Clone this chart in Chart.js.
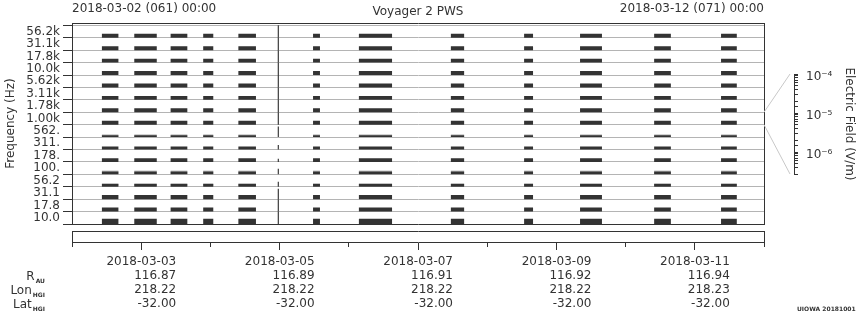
<!DOCTYPE html>
<html>
<head>
<meta charset="utf-8">
<script src="https://cdn.jsdelivr.net/npm/chart.js@4.4.1/dist/chart.umd.min.js"></script>
<style>
  body { margin: 0; background: #fff; font-family: 'DejaVu Sans', sans-serif; color: #333; }
  #wrap { position: relative; width: 860px; height: 320px; overflow: hidden; }
  canvas { position: absolute; }
  .txt { position: absolute; font-size: 12px; line-height: 14px; white-space: nowrap; }
  .row { position: absolute; right: 815px; font-size: 12px; line-height: 14px; white-space: nowrap; }
  .row sub { font-size: 6px; font-weight: bold; vertical-align: -3px; margin-left: 1px; }
  .stamp { position: absolute; left: 797px; top: 305px; font-size: 6px; font-weight: bold; white-space: nowrap; }
</style>
</head>
<body>
<div id="wrap">
  <canvas id="spec" width="860" height="320" style="left:0;top:0"></canvas>
  <canvas id="time" width="860" height="320" style="left:0;top:0"></canvas>
  <canvas id="cbar" width="100" height="150" style="left:760px;top:50px"></canvas>
  <div class="txt" style="left:72px;top:1px">2018-03-02 (061) 00:00</div>
  <div class="txt" style="left:418px;top:4px;transform:translateX(-50%)">Voyager 2 PWS</div>
  <div class="txt" style="right:96px;top:1px">2018-03-12 (071) 00:00</div>
  <div class="row" style="top:269px">R<sub>AU</sub></div>
  <div class="row" style="top:283px">Lon<sub>HGI</sub></div>
  <div class="row" style="top:297px">Lat<sub>HGI</sub></div>
  <div class="stamp">UIOWA 20181001</div>
</div>
<script>
// frequency channels, bottom to top
const channels = ['10.0', '17.8', '31.1', '56.2', '100.', '178.', '311.', '562.',
  '1.00k', '1.78k', '3.11k', '5.62k', '10.0k', '17.8k', '31.1k', '56.2k'];

// data segments, hours after 2018-03-02 00:00
const segStart = [10.3, 21.6, 34.2, 45.5, 57.7, 83.6, 99.5, 131.4, 156.8, 176.2, 201.9, 225.1];
const segEnd   = [16.1, 29.4, 40.0, 49.0, 63.8, 86.0, 111.0, 136.0, 159.9, 183.8, 207.7, 230.6];

// electric field per channel (V/m) during segments
const fieldLevel = [3.5e-6, 1.8e-6, 2.1e-6, 1.0e-6, 1.0e-6, 1.6e-6, 1.1e-6, 6.2e-7,
  1.8e-6, 1.8e-6, 1.8e-6, 1.8e-6, 1.8e-6, 1.8e-6, 1.8e-6, 1.8e-6];
// occasional peaks (V/m), lighter trace
const peakLevel = [null, null, null, 1.6e-6, 1.6e-6, null, null, 1.0e-6,
  null, null, null, null, null, null, null, null];

// short burst near 2018-03-04 23:30
const spikeStart = 71.35;
const spikeEnd = 71.75;
const spikeLevel = [1.0e-4, 1.0e-4, 4.1e-5, 2.9e-6, 3.9e-6, 1.3e-6, 2.2e-6, 4.1e-5,
  1.0e-4, 1.0e-4, 1.0e-4, 1.0e-4, 1.0e-4, 1.0e-4, 1.0e-4, 1.0e-4];

// electric field scale of one channel band
const fieldMin = 2.73e-7;
const fieldMax = 1.0e-4;

// time axis
const tickHours = [0, 24, 48, 72, 96, 120, 144, 168, 192, 216, 240];
const tickDates = ['2018-03-03', '2018-03-05', '2018-03-07', '2018-03-09', '2018-03-11'];
const rAU    = ['116.87', '116.89', '116.91', '116.92', '116.94'];
const lonHGI = ['218.22', '218.22', '218.22', '218.22', '218.23'];
const latHGI = ['-32.00', '-32.00', '-32.00', '-32.00', '-32.00'];

const ink = '#333';
const gridGrey = '#b4b4b4';
const font = { family: "'DejaVu Sans', sans-serif", size: 12 };

function bandFraction(e) {
  const lo = Math.log10(fieldMin), hi = Math.log10(fieldMax);
  return Math.min(1, Math.max(0, (Math.log10(e) - lo) / (hi - lo)));
}

// step trace of one channel, filled down to the band floor
function trace(ch, spans) {
  const pts = [];
  spans.sort((a, b) => a.s - b.s).forEach(sp => {
    const top = ch + bandFraction(sp.v);
    pts.push({ x: sp.s, y: ch }, { x: sp.s, y: top }, { x: sp.e, y: top }, { x: sp.e, y: ch });
  });
  return pts;
}

const datasets = [];
channels.forEach((name, ch) => {
  const spans = segStart.map((s, k) => ({ s: s, e: segEnd[k], v: fieldLevel[ch] }));
  spans.push({ s: spikeStart, e: spikeEnd, v: spikeLevel[ch] });
  datasets.push({
    label: name,
    data: trace(ch, spans),
    xAxisID: 'x', yAxisID: 'y',
    backgroundColor: ink,
    borderColor: 'rgba(0,0,0,0)',
    fill: { value: ch }
  });
});
channels.forEach((name, ch) => {
  if (peakLevel[ch] === null) return;
  const spans = segStart.map((s, k) => ({ s: s, e: segEnd[k], v: peakLevel[ch] }));
  datasets.push({
    label: name + ' peak',
    data: trace(ch, spans),
    xAxisID: 'x', yAxisID: 'y',
    backgroundColor: '#c4c4c4',
    borderColor: 'rgba(0,0,0,0)',
    fill: { value: ch }
  });
});

const frame = (pos, size) => ({
  type: 'linear', position: pos, min: 0, max: 1,
  ticks: { display: false }, grid: { display: false },
  border: { color: ink },
  afterFit: s => { if (pos === 'top' || pos === 'bottom') s.height = size; else s.width = size; }
});

const specChart = new Chart(document.getElementById('spec'), {
  type: 'line',
  data: { datasets },
  options: {
    responsive: false, animation: false, events: [],
    layout: { padding: { top: 23, right: 96, bottom: 96, left: 0 } },
    plugins: { legend: { display: false }, tooltip: { enabled: false } },
    elements: { point: { radius: 0 }, line: { borderWidth: 0, tension: 0 } },
    scales: {
      x: { type: 'linear', min: 0, max: 240, ticks: { display: false }, grid: { display: false },
           border: { color: ink }, afterFit: s => { s.height = 0; } },
      y: {
        type: 'linear', min: 0, max: 16.19,
        afterBuildTicks: s => { s.ticks = channels.concat(['']).map((_, i) => ({ value: i })); },
        ticks: { autoSkip: false, color: ink, font, padding: 3, labelOffset: -6.2,
                 callback: v => channels[v] || '' },
        grid: { color: c => (c.tick && c.tick.value === 0) ? 'rgba(0,0,0,0)' : gridGrey,
                tickColor: ink, tickLength: 9 },
        border: { color: ink },
        title: { display: true, text: 'Frequency (Hz)', color: ink, font },
        afterFit: s => { s.width = 72; }
      },
      xTop: frame('top', 0),
      yRight: frame('right', 0)
    }
  }
});

new Chart(document.getElementById('time'), {
  type: 'line',
  data: { datasets: [] },
  options: {
    responsive: false, animation: false, events: [],
    layout: { padding: { top: 231, right: 96, bottom: 0, left: 0 } },
    plugins: { legend: { display: false }, tooltip: { enabled: false } },
    scales: {
      x: {
        type: 'linear', min: 0, max: 240,
        afterBuildTicks: s => { s.ticks = tickHours.map(h => ({ value: h })); },
        ticks: {
          autoSkip: false, maxRotation: 0, align: 'end', labelOffset: 35, padding: 5, color: ink,
          font: { family: font.family, size: 12, lineHeight: '14px' },
          callback: v => {
            const k = (v - 24) / 48;
            if (!Number.isInteger(k) || k < 0 || k >= tickDates.length) return '';
            return [tickDates[k], rAU[k], lonHGI[k], latHGI[k]];
          }
        },
        grid: {
          drawOnChartArea: false, tickLength: 8, tickColor: ink,
          tickBorderDash: c => (c.tick && (c.tick.value - 24) % 48 === 0) ? [] : [4, 20]
        },
        border: { color: ink },
        afterFit: s => { s.height = 78; }
      },
      y: frame('left', 72),
      xTop: frame('top', 0),
      yRight: frame('right', 0)
    }
  }
});

const sup = { '-': '\u207b', '4': '\u2074', '5': '\u2075', '6': '\u2076', '7': '\u2077' };

// grey callout from the 1.00k band to the field scale
const callout = {
  id: 'callout',
  beforeDraw(chart) {
    const y = specChart.scales.y;
    const xr = specChart.chartArea.right - 760;
    const a = chart.chartArea;
    const ctx = chart.ctx;
    ctx.save();
    ctx.strokeStyle = '#c8c8c8';
    ctx.lineWidth = 1;
    ctx.beginPath();
    ctx.moveTo(xr, y.getPixelForValue(9) - 50);
    ctx.lineTo(a.left, a.top);
    ctx.moveTo(xr, y.getPixelForValue(8) - 50);
    ctx.lineTo(a.left, a.bottom);
    ctx.stroke();
    ctx.restore();
  }
};

new Chart(document.getElementById('cbar'), {
  type: 'line',
  data: { datasets: [] },
  options: {
    responsive: false, animation: false, events: [],
    layout: { padding: { top: 24, right: 0, bottom: 26, left: 30 } },
    plugins: { legend: { display: false }, tooltip: { enabled: false } },
    scales: {
      x: { display: false },
      y: {
        type: 'logarithmic', position: 'right', min: fieldMin, max: fieldMax,
        ticks: {
          autoSkip: false, color: ink, font, padding: 8, labelOffset: 3,
          callback: v => {
            const l = Math.log10(v);
            if (Math.abs(l - Math.round(l)) > 1e-6) return '';
            return '10' + String(Math.round(l)).split('').map(c => sup[c]).join('');
          }
        },
        grid: { drawOnChartArea: false, tickLength: 4, tickColor: ink },
        border: { color: ink },
        title: { display: true, text: 'Electric Field (V/m)', color: ink, font },
        afterFit: s => { s.width = 66; }
      }
    }
  },
  plugins: [callout]
});
</script>
</body>
</html>
